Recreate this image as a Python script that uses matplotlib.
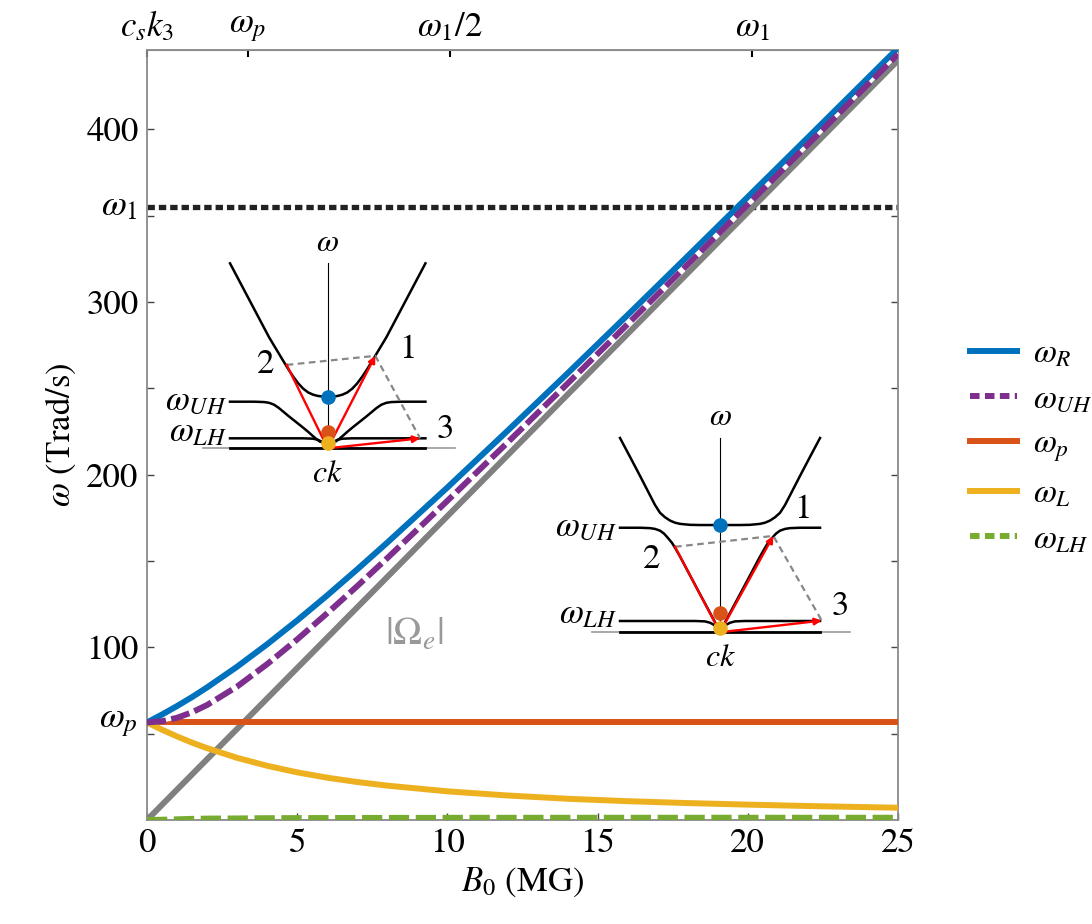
import matplotlib
matplotlib.use("Agg")
import matplotlib.pyplot as plt
from matplotlib.lines import Line2D

plt.rcParams['font.family'] = 'STIXGeneral'
plt.rcParams['mathtext.fontset'] = 'stix'

# ---- main curves (B0 in MG, omega in Trad/s)
B = [0, 0.5, 1, 1.5, 2, 3, 4, 5, 6, 7, 8, 10, 12, 14, 16, 18, 20, 22, 25]
w_R = [56.5, 61.1, 66.0, 71.2, 76.8, 88.8, 101.8, 115.6, 130.1, 145.2, 160.7,
       192.6, 225.4, 258.7, 292.5, 326.6, 360.9, 395.3, 447.1]
w_UH = [56.5, 57.2, 59.2, 62.4, 66.6, 77.3, 90.3, 104.6, 119.8, 135.5, 151.7,
        184.9, 218.6, 252.8, 287.2, 321.8, 356.5, 391.3, 443.6]
w_L = [56.5, 52.3, 48.4, 44.8, 41.6, 36.0, 31.4, 27.6, 24.5, 22.0, 19.9,
       16.6, 14.2, 12.3, 10.9, 9.8, 8.9, 8.1, 7.1]
w_LH = [0.0, 0.15, 0.4, 0.65, 0.8, 0.9, 1.05, 1.1, 1.15, 1.2, 1.22,
        1.26, 1.28, 1.29, 1.3, 1.3, 1.31, 1.31, 1.31]
B_line = [0, 25]
Omega_e = [0, 440]
w_p = 56.5
w_1 = 355

top_ticks = [0, 3.36, 10.07, 20.15]
top_labels = [r'$c_s k_3$', r'$\omega_p$', r'$\omega_1/2$', r'$\omega_1$']

ins1_k_A = [0, 0.05, 0.1, 0.15, 0.2, 0.25, 0.3, 0.35, 0.4, 0.45, 0.5, 0.6, 0.8, 1.0]
ins1_w_A = [0.279, 0.28, 0.283, 0.29, 0.302, 0.322, 0.35, 0.385, 0.425, 0.468, 0.512, 0.6, 0.8, 1.0]
ins1_k_B = [0, 0.04, 0.08, 0.12, 0.16, 0.2, 0.25, 0.3, 0.35, 0.4, 0.45, 0.5, 0.55, 0.6, 0.65, 0.75, 1.0]
ins1_w_B = [0.03, 0.031, 0.036, 0.052, 0.07, 0.089, 0.111, 0.132, 0.153, 0.174, 0.196, 0.218, 0.236,
            0.246, 0.25, 0.252, 0.252]
ins1_k_C = [0, 0.03, 0.06, 0.1, 0.15, 0.25, 1.0]
ins1_w_C = [0.0, 0.02, 0.035, 0.046, 0.052, 0.054, 0.054]
ins1_dots = [0.279, 0.09, 0.03]
ins1_p1 = (0.487, 0.5)
ins1_p2 = (-0.42, 0.451)
ins1_p3 = (0.945, 0.054)

ins2_k_A = [0, 0.2, 0.3, 0.4, 0.45, 0.5, 0.55, 0.6, 0.65, 0.7, 0.8, 0.9, 1.0]
ins2_w_A = [0.552, 0.552, 0.553, 0.558, 0.564, 0.575, 0.592, 0.615, 0.655, 0.705, 0.805, 0.903, 1.0]
ins2_k_B = [0, 0.02, 0.05, 0.1, 0.2, 0.3, 0.4, 0.45, 0.48, 0.52, 0.56, 0.6, 0.65, 0.7, 0.8, 1.0]
ins2_w_B = [0.02, 0.028, 0.052, 0.1, 0.196, 0.293, 0.39, 0.435, 0.46, 0.485, 0.508, 0.523, 0.532,
            0.536, 0.538, 0.538]
ins2_k_C = [0, 0.03, 0.06, 0.1, 0.15, 0.25, 1.0]
ins2_w_C = [0.0, 0.022, 0.038, 0.049, 0.056, 0.058, 0.058]
ins2_dots = [0.552, 0.098, 0.02]
ins2_p1 = (0.533, 0.496)
ins2_p2 = (-0.45, 0.44)
ins2_p3 = (1.017, 0.06)

blue = '#0072BD'
orange = '#D95319'
yellow = '#EDB120'
purple = '#7E2F8E'
green = '#77AC30'
grey = '#808080'

fig = plt.figure(figsize=(10.92, 9.24), dpi=100)
ax = fig.add_axes([147/1092, 1-820/924, 751/1092, 770/924])

lw = 4.3
ax.plot(B_line, [w_1, w_1], color='#222222', lw=3.8, dashes=(1.4, 0.75), zorder=2)
ax.plot(B_line, Omega_e, color=grey, lw=lw, solid_capstyle='butt', zorder=3)
ax.plot(B_line, [w_p, w_p], color=orange, lw=lw, zorder=3)
ax.plot(B, w_L, color=yellow, lw=lw, zorder=3)
ax.plot(B, w_R, color=blue, lw=lw, zorder=4)
ax.plot(B, w_UH, color='white', lw=2.2, zorder=5)
ax.plot(B, w_UH, color=purple, lw=lw, dashes=(3.2, 0.9), zorder=6)
ax.plot(B, w_LH, color=green, lw=lw, dashes=(3.4, 1.1), zorder=6)

ax.set_xlim(0, 25)
ax.set_ylim(0, 446)
ax.set_xticks([0, 5, 10, 15, 20, 25])
ax.set_yticks([50, 100, 150, 200, 250, 300, 350, 400])
ax.set_yticklabels(['', '100', '', '200', '', '300', '', '400'])
ax.tick_params(direction='in', length=5, width=1, color='#444444', labelsize=25,
               right=True, pad=6)
for s in ax.spines.values():
    s.set_color('#8a8a8a')
    s.set_linewidth(1.3)

ax.text(-0.3, w_p, r'$\omega_p$', fontsize=26, ha='right', va='center')
ax.text(-0.3, w_1, r'$\omega_1$', fontsize=26, ha='right', va='center')
ax.text(8.9, 107, r'$|\Omega_e|$', fontsize=28, color='#999999', ha='center', va='center')

sec = ax.secondary_xaxis('top')
sec.set_xticks(top_ticks)
sec.set_xticklabels(top_labels)
sec.tick_params(direction='in', length=5, width=1.5, color='black', labelsize=25, pad=4)
sec.spines['top'].set_color('#8a8a8a')

ax.set_xlabel(r'$B_0$ (MG)', fontsize=25, labelpad=4)
ax.set_ylabel(r'$\omega$ (Trad/s)', fontsize=25, labelpad=6)

# legend
handles = [Line2D([], [], color=blue, lw=lw),
           Line2D([], [], color=purple, lw=lw, dashes=(1.6, 0.9)),
           Line2D([], [], color=orange, lw=lw),
           Line2D([], [], color=yellow, lw=lw),
           Line2D([], [], color=green, lw=lw, dashes=(1.6, 0.9))]
labels = [r'$\omega_R$', r'$\omega_{UH}$', r'$\omega_p$', r'$\omega_L$', r'$\omega_{LH}$']
fig.legend(handles, labels, loc='center left', bbox_to_anchor=(940/1092, 1-447/924),
           frameon=False, fontsize=24, handlelength=1.4, handletextpad=0.5,
           labelspacing=0.45)


def mirror(k, w):
    # build full symmetric branch from the right half
    kk = [-x for x in k[::-1]] + k[1:]
    ww = w[::-1] + w[1:]
    return kk, ww


def draw_inset(rect, kA, wA, kB, wB, kC, wC, dots, p1, p2, p3, lab_pos):
    ia = fig.add_axes(rect)
    ia.set_xlim(-1.3, 1.35)
    ia.set_ylim(-0.1, 1.05)
    ia.axis('off')
    ia.patch.set_alpha(0)
    ia.plot([-1.28, 1.3], [0, 0], color='#999999', lw=1.2, zorder=1)
    ia.plot([-1, 1], [0, 0], color='black', lw=2, zorder=2)
    ia.plot([0, 0], [0, 1.0], color='black', lw=0.8, zorder=2)
    for k, w in ((kA, wA), (kB, wB), (kC, wC)):
        kk, ww = mirror(k, w)
        ia.plot(kk, ww, color='black', lw=1.8, zorder=3)
    ia.plot([p2[0], p1[0], p3[0]], [p2[1], p1[1], p3[1]], color='#888888',
            lw=1.6, dashes=(3, 2), zorder=4)
    ia.plot([0, p2[0]], [0, p2[1]], color='red', lw=1.7, zorder=5)
    for p in (p1, p3):
        ia.annotate('', xy=p, xytext=(0, 0),
                    arrowprops=dict(arrowstyle='-|>', color='red', lw=1.7,
                                    mutation_scale=10, shrinkA=0, shrinkB=0),
                    zorder=5)
    for w, c in zip(dots, [blue, orange, yellow]):
        ia.plot(0, w, 'o', color=c, ms=9.5, zorder=6)
    ia.text(0, 1.03, r'$\omega$', fontsize=23, ha='center', va='bottom')
    ia.text(0, -0.06, r'$ck$', fontsize=23, ha='center', va='top')
    ia.text(-1.03, wB[-1], r'$\omega_{UH}$', fontsize=25, ha='right', va='center')
    ia.text(-1.03, wC[-1] + 0.03, r'$\omega_{LH}$', fontsize=25, ha='right', va='center')
    for t, (x, y) in zip(['1', '2', '3'], lab_pos):
        ia.text(x, y, t, fontsize=25, ha='center', va='center')


draw_inset([0.1838, 0.4948, 0.2371, 0.2302], ins1_k_A, ins1_w_A, ins1_k_B, ins1_w_B,
           ins1_k_C, ins1_w_C, ins1_dots, ins1_p1, ins1_p2, ins1_p3,
           [(0.82, 0.53), (-0.64, 0.45), (1.2, 0.1)])
draw_inset([0.5403, 0.2947, 0.2427, 0.2418], ins2_k_A, ins2_w_A, ins2_k_B, ins2_w_B,
           ins2_k_C, ins2_w_C, ins2_dots, ins2_p1, ins2_p2, ins2_p3,
           [(0.83, 0.63), (-0.68, 0.37), (1.2, 0.13)])

fig.savefig('out.png', dpi=100)
